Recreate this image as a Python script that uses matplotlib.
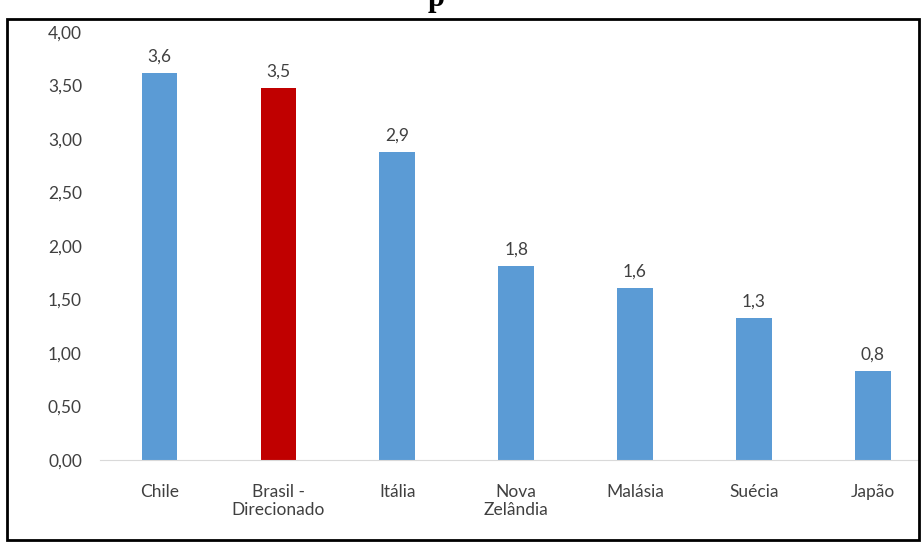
import matplotlib
matplotlib.use("Agg")
import matplotlib.pyplot as plt
from matplotlib.patches import Rectangle

# chart data
countries = ["Chile", "Brasil -\nDirecionado", "Itália", "Nova\nZelândia",
             "Malásia", "Suécia", "Japão"]
values = [3.62, 3.48, 2.88, 1.81, 1.61, 1.33, 0.83]
labels = ["3,6", "3,5", "2,9", "1,8", "1,6", "1,3", "0,8"]
yticks = [0.0, 0.5, 1.0, 1.5, 2.0, 2.5, 3.0, 3.5, 4.0]

blue = "#5B9BD5"
red = "#C00000"
colors = [red if c.startswith("Brasil") else blue for c in countries]

plt.rcParams['font.family'] = ['Lato', 'DejaVu Sans']

W, H = 923, 542
fig = plt.figure(figsize=(W / 100, H / 100), dpi=100)

# axes placed in pixel terms
left, right, top, bottom = 100, 918, 32, 460
ax = fig.add_axes([left / W, 1 - bottom / H, (right - left) / W, (bottom - top) / H])

x = list(range(len(countries)))
ax.bar(x, values, width=0.30, color=colors, zorder=2)
for xi, v, lab in zip(x, values, labels):
    ax.annotate(lab, (xi, v), xytext=(0, 6), textcoords="offset points",
                ha="center", va="bottom", fontsize=12.5, color="#404040")

ax.set_ylim(0, 4)
ax.set_xlim(-0.5, 6.38)
ax.set_yticks(yticks)
ax.set_yticklabels([f"{t:.2f}".replace(".", ",") for t in yticks])
ax.set_xticks(x)
ax.set_xticklabels(countries)
ax.tick_params(axis="y", length=0, pad=13, labelsize=12.5, labelcolor="#404040")
ax.tick_params(axis="x", length=0, pad=17, labelsize=12.5, labelcolor="#404040")
for s in ["top", "right", "left"]:
    ax.spines[s].set_visible(False)
ax.spines["bottom"].set_color("#D9D9D9")

# outer frame
fig.patches.append(Rectangle((7 / W, 2 / H), (919 - 7) / W, (540 - 19) / H,
                             transform=fig.transFigure, fill=False,
                             edgecolor="black", linewidth=2))

# clipped title remnant
fig.text(436 / W, 1 - 6 / H, "p", ha="center", va="baseline", fontsize=22,
         fontweight="bold", family="Liberation Serif")

fig.savefig("out.png", dpi=100)
